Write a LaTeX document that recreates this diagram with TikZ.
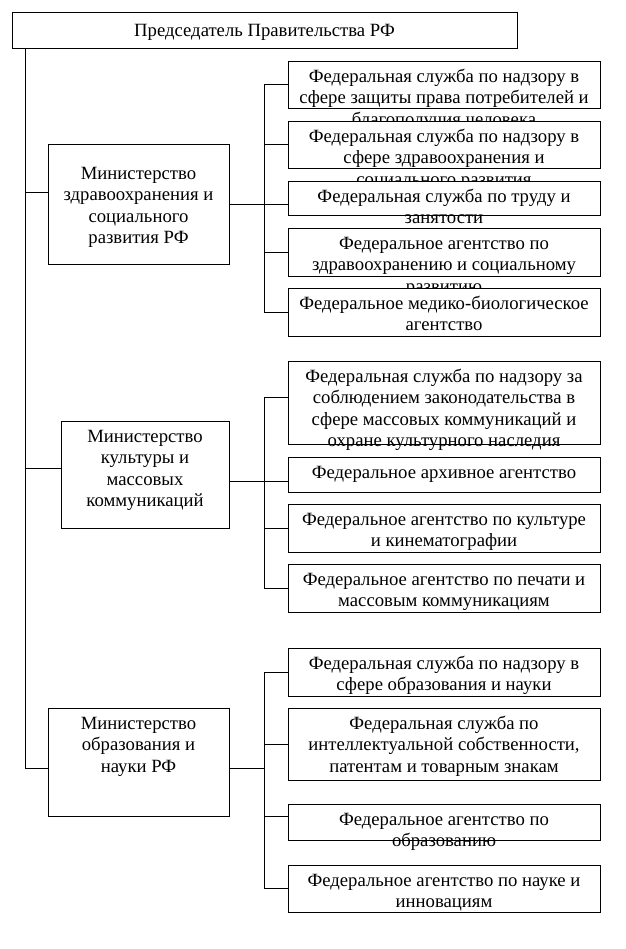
\documentclass[tikz,border=0pt]{standalone}
\usepackage{fontspec}
\setmainfont{Liberation Serif}
\tikzset{
  bx/.style={draw, fill=white, line width=0.8pt, inner sep=0pt, outer sep=0pt},
  txt/.style={inner sep=0pt, anchor=north},
  ln/.style={line width=0.8pt}
}
\newcommand\mkbox[7]{%
  \node[bx, minimum width={#4-#2}, minimum height={#5-#3}] (#1) at ({(#2+#4)/2},{(#3+#5)/2}) {};
  \node[txt] (#1t) at ({(#2+#4)/2},{#3+#6}) {\parbox[t]{\dimexpr#4pt-#2pt\relax}{\centering\fontsize{18.7}{21.5}\selectfont\rule{0pt}{17pt}#7\par}};%
}
\begin{document}
\begin{tikzpicture}[x=1pt,y=-1pt]
\fill[white] (0,0) rectangle (625,949);
\useasboundingbox (0,0) rectangle (625,949);
\mkbox{t}{12}{12}{517}{48}{7}{Председатель Правительства РФ}
% group 1
\mkbox{m1}{48}{144}{229}{264}{18}{Министерство\\здравоохранения и\\социального\\развития РФ}
\mkbox{s1a}{288}{61}{600}{108}{4}{Федеральная служба по надзору в\\сфере защиты права потребителей и\\благополучия человека}
\mkbox{s1b}{288}{121}{600}{168}{4}{Федеральная служба по надзору в\\сфере здравоохранения и\\социального развития}
\mkbox{s1c}{288}{181}{600}{215}{4}{Федеральная служба по труду и\\занятости}
\mkbox{s1d}{288}{228}{600}{276}{4}{Федеральное агентство по\\здравоохранению и социальному\\развитию}
\mkbox{s1e}{288}{288}{600}{336}{4}{Федеральное медико-биологическое\\агентство}
% group 2
\mkbox{m2}{61}{421}{229}{528}{4}{Министерство\\культуры и\\массовых\\коммуникаций}
\mkbox{s2a}{288}{361}{600}{444}{4}{Федеральная служба по надзору за\\соблюдением законодательства в\\сфере массовых коммуникаций и\\охране культурного наследия}
\mkbox{s2b}{288}{457}{600}{492}{4}{Федеральное архивное агентство}
\mkbox{s2c}{288}{504}{600}{552}{4}{Федеральное агентство по культуре\\и кинематографии}
\mkbox{s2d}{288}{564}{600}{612}{4}{Федеральное агентство по печати и\\массовым коммуникациям}
% group 3
\mkbox{m3}{48}{708}{229}{816}{4}{Министерство\\образования и\\науки РФ}
\mkbox{s3a}{288}{648}{600}{696}{4}{Федеральная служба по надзору в\\сфере образования и науки}
\mkbox{s3b}{288}{708}{600}{780}{4}{Федеральная служба по\\интеллектуальной собственности,\\патентам и товарным знакам}
\mkbox{s3c}{288}{804}{600}{840}{4}{Федеральное агентство по\\образованию}
\mkbox{s3d}{288}{865}{600}{912}{4}{Федеральное агентство по науке и\\инновациям}
% trunk
\coordinate (tk) at (25,48);
\draw[ln] (tk) |- ([yshift=-6pt]m3.west);
\draw[ln] ([yshift=12pt]m1.west) -- ++(-23,0);
\draw[ln] ([yshift=6.5pt]m2.west) -- ++(-36,0);
% bus 1
\coordinate (b1) at (264,204);
\draw[ln] (m1.east) -- (b1);
\draw[ln] (s1a.west) -| (b1);
\draw[ln] (s1b.west) -| (b1);
\draw[ln] (s1c.west |- b1) -- (b1);
\draw[ln] (s1d.west) -| (b1);
\draw[ln] (s1e.west) -| (b1);
% bus 2
\coordinate (b2) at (264,481);
\draw[ln] (m2.east |- b2) -- (b2);
\draw[ln] ([yshift=5.5pt]s2a.west) -| (b2);
\draw[ln] (s2b.west |- b2) -- (b2);
\draw[ln] (s2c.west) -| (b2);
\draw[ln] (s2d.west) -| (b2);
% bus 3
\coordinate (b3) at (264,768);
\draw[ln] (m3.east |- b3) -- (b3);
\draw[ln] (s3a.west) -| (b3);
\draw[ln] (s3b.west) -| (b3);
\draw[ln] ([yshift=6pt]s3c.west) -| (b3);
\draw[ln] (s3d.west) -| (b3);
\end{tikzpicture}
\end{document}
